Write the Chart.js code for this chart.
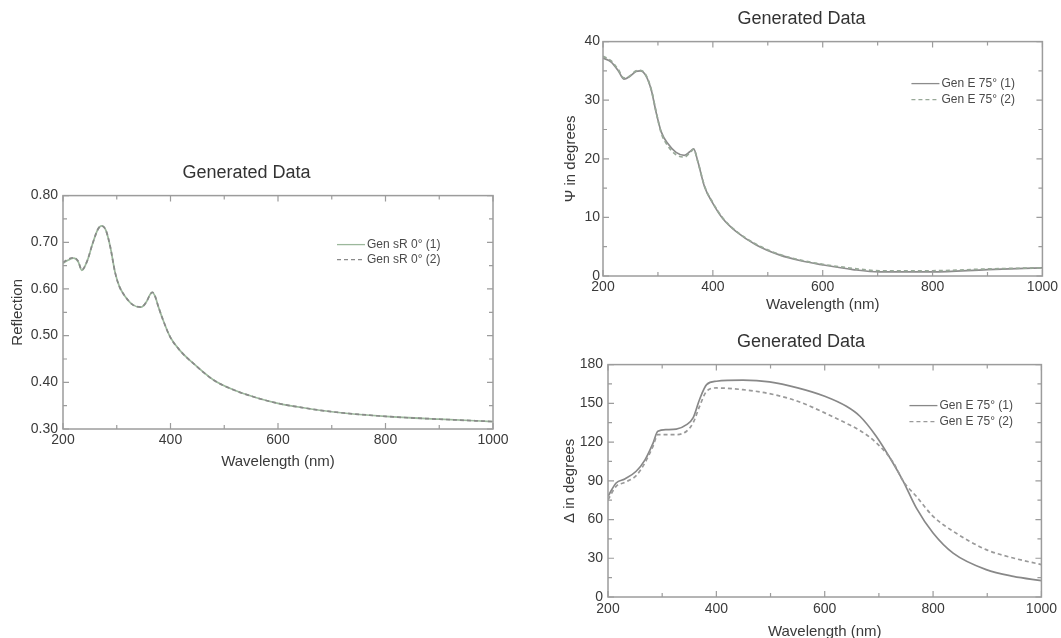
<!DOCTYPE html>
<html>
<head>
<meta charset="utf-8">
<script src="https://cdn.jsdelivr.net/npm/chart.js@4"></script>
<style>
  html, body { margin: 0; background: #fff; width: 1061px; height: 638px; overflow: hidden; }
  .box { position: absolute; }
</style>
</head>
<body>
<div class="box" style="left:0;top:150px;width:520px;height:330px"><canvas id="reflChart"></canvas></div>
<div class="box" style="left:560px;top:0;width:501px;height:320px"><canvas id="psiChart"></canvas></div>
<div class="box" style="left:560px;top:320px;width:501px;height:318px"><canvas id="deltaChart"></canvas></div>
<script>
// reflection, normal incidence
var reflWl = [200, 210, 220, 228, 235, 245, 255, 265, 272, 280, 288, 297, 305, 315, 330, 345, 355, 362, 366, 371, 378, 386, 399, 417, 442, 480, 517, 560, 600, 650, 700, 800, 900, 1000];
var reflGen1 = [0.655, 0.662, 0.666, 0.659, 0.640, 0.660, 0.697, 0.728, 0.735, 0.725, 0.690, 0.635, 0.605, 0.585, 0.566, 0.561, 0.572, 0.588, 0.593, 0.585, 0.560, 0.534, 0.498, 0.469, 0.441, 0.405, 0.384, 0.367, 0.355, 0.345, 0.337, 0.327, 0.321, 0.316];
var reflGen2 = [0.657, 0.664, 0.667, 0.660, 0.641, 0.660, 0.697, 0.728, 0.735, 0.725, 0.690, 0.635, 0.605, 0.585, 0.566, 0.561, 0.572, 0.588, 0.593, 0.585, 0.560, 0.534, 0.498, 0.469, 0.441, 0.405, 0.384, 0.367, 0.355, 0.345, 0.337, 0.327, 0.321, 0.316];

// psi at 75 deg
var psiWl = [200, 215, 228, 238, 248, 260, 268, 278, 288, 297, 306, 318, 333, 348, 358, 365, 373, 385, 400, 418, 442, 479, 521, 560, 600, 655, 703, 800, 900, 1000];
var psiGen1 = [37.2, 36.5, 35.0, 33.6, 34.0, 34.9, 35.0, 34.2, 31.7, 27.8, 24.6, 22.6, 21.1, 20.6, 21.2, 21.7, 19.4, 15.2, 12.4, 9.8, 7.6, 5.3, 3.6, 2.6, 1.9, 1.1, 0.7, 0.7, 1.1, 1.4];
var psiGen2 = [37.5, 36.7, 35.2, 33.8, 34.1, 35.0, 35.1, 34.3, 31.8, 27.9, 24.4, 22.2, 20.7, 20.3, 21.0, 21.6, 19.4, 15.3, 12.5, 9.9, 7.7, 5.4, 3.7, 2.7, 2.0, 1.3, 0.9, 0.9, 1.2, 1.4];

// delta at 75 deg
var delWl = [200, 215, 231, 252, 268, 283, 292, 308, 326, 345, 357, 369, 382, 400, 449, 498, 550, 600, 640, 665, 695, 726, 745, 769, 800, 837, 898, 948, 1000];
var delGen1 = [78, 88.3, 91.4, 97.4, 106, 119, 128.4, 129.6, 130, 133.5, 138.7, 153, 164.5, 167.1, 167.9, 166.6, 162.0, 155.5, 147.7, 140, 124.5, 103.8, 89.6, 69, 49.6, 34, 21.2, 16, 12.7];
var delGen2 = [75.4, 85.7, 88.8, 94, 103.8, 116.7, 125.8, 125.8, 125.8, 128.4, 134.8, 147.7, 159.3, 161.9, 160.6, 157.5, 151.6, 142.6, 134.5, 129.0, 119.5, 104.5, 89.6, 78.0, 62.5, 50.9, 36.7, 30.2, 25.1];

var xTicks = [200, 400, 600, 800, 1000];

Chart.defaults.font.family = "'Liberation Sans', Arial, sans-serif";
Chart.defaults.color = "#3a3a3a";

function pts(xs, ys) {
  return xs.map(function (x, i) { return { x: x, y: ys[i] }; });
}

function isMajor(v, step) {
  var r = v / step;
  return Math.abs(r - Math.round(r)) < 1e-6;
}

// box frame with inward ticks on all four sides, plus the small legend
var frameTicks = {
  id: "frameTicks",
  afterDatasetsDraw(chart, args, opts) {
    var ctx = chart.ctx, a = chart.chartArea, x = chart.scales.x, y = chart.scales.y;
    ctx.save();
    ctx.strokeStyle = "#9c9c9c";
    ctx.lineWidth = 1.5;
    ctx.strokeRect(a.left, a.top, a.right - a.left, a.bottom - a.top);
    ctx.lineWidth = 1.2;
    ctx.beginPath();
    var v, p, len;
    for (v = x.min; v <= x.max + 1e-9; v += opts.xMinor) {
      p = x.getPixelForValue(v);
      len = isMajor(v, opts.xMajor) ? 6 : 4;
      ctx.moveTo(p, a.bottom); ctx.lineTo(p, a.bottom - len);
      ctx.moveTo(p, a.top); ctx.lineTo(p, a.top + len);
    }
    for (v = y.min; v <= y.max + 1e-9; v += opts.yMinor) {
      p = y.getPixelForValue(v);
      len = isMajor(v - y.min, opts.yMajor) ? 6 : 4;
      ctx.moveTo(a.left, p); ctx.lineTo(a.left + len, p);
      ctx.moveTo(a.right, p); ctx.lineTo(a.right - len, p);
    }
    ctx.stroke();

    // legend
    var lg = opts.legend;
    ctx.font = "12px 'Liberation Sans', Arial, sans-serif";
    ctx.textBaseline = "middle";
    ctx.textAlign = "left";
    chart.data.datasets.forEach(function (ds, i) {
      var lx = a.right - lg.right, ly = a.top + lg.top + i * lg.gap;
      ctx.strokeStyle = ds.borderColor;
      ctx.lineWidth = 1.3;
      ctx.setLineDash(ds.borderDash || []);
      ctx.beginPath();
      ctx.moveTo(lx, ly); ctx.lineTo(lx + 28, ly);
      ctx.stroke();
      ctx.setLineDash([]);
      ctx.fillStyle = "#4a4a4a";
      ctx.fillText(ds.label, lx + 30, ly);
    });
    ctx.restore();
  }
};

function makeChart(id, c) {
  return new Chart(id, {
    type: "line",
    data: {
      datasets: [
        {
          label: c.labels[0],
          data: pts(c.wl, c.s1),
          borderColor: c.colors[0],
          borderWidth: 1.7,
          pointRadius: 0,
          order: 1,
          cubicInterpolationMode: "monotone",
        },
        {
          label: c.labels[1],
          data: pts(c.wl, c.s2),
          borderColor: c.colors[1],
          borderWidth: 1.7,
          borderDash: [4, 3],
          pointRadius: 0,
          order: 0,
          cubicInterpolationMode: "monotone",
        },
      ],
    },
    options: {
      responsive: true,
      maintainAspectRatio: false,
      animation: false,
      layout: { padding: c.pad },
      plugins: {
        legend: { display: false },
        tooltip: { enabled: false },
        title: {
          display: true,
          text: "Generated Data",
          color: "#333",
          font: { size: 18, weight: "normal" },
          padding: c.titlePad,
        },
        frameTicks: {
          xMinor: 100, xMajor: 200,
          yMinor: c.yMinor, yMajor: c.yStep,
          legend: c.legend,
        },
      },
      scales: {
        x: {
          type: "linear",
          min: 200,
          max: 1000,
          afterFit(s) { s.height = c.xHeight; },
          afterBuildTicks(s) { s.ticks = xTicks.map(function (v) { return { value: v }; }); },
          grid: { display: false, drawTicks: false },
          border: { display: false },
          ticks: {
            font: { size: 14 },
            padding: c.xLabelPad,
            maxRotation: 0,
            callback: function (v) { return String(v); },
          },
          title: {
            display: true,
            text: "Wavelength (nm)",
            font: { size: 15 },
            padding: { top: 0, bottom: c.xTitlePad },
          },
        },
        y: {
          min: c.yMin,
          max: c.yMax,
          afterFit(s) { s.width = c.yWidth; },
          grid: { display: false, drawTicks: false },
          border: { display: false },
          ticks: {
            stepSize: c.yStep,
            font: { size: 14 },
            padding: c.yLabelPad,
            callback: function (v) { return c.yFmt(v); },
          },
          title: {
            display: true,
            text: c.yTitle,
            font: { size: 15 },
            padding: { top: c.yTitlePad, bottom: 0 },
          },
        },
      },
    },
    plugins: [frameTicks],
  });
}

makeChart("reflChart", {
  wl: reflWl, s1: reflGen1, s2: reflGen2,
  labels: ["Gen sR 0° (1)", "Gen sR 0° (2)"],
  colors: ["#9cb89c", "#8a8a8a"],
  yMin: 0.3, yMax: 0.8, yStep: 0.1, yMinor: 0.05,
  yFmt: function (v) { return v.toFixed(2); },
  yTitle: "Reflection",
  pad: { left: 0, right: 27, top: 0, bottom: 6 },
  titlePad: { top: 12, bottom: 12 },
  yWidth: 63, xHeight: 45,
  xLabelPad: 3, yLabelPad: 5, xTitlePad: 3, yTitlePad: 9,
  legend: { right: 156, top: 49, gap: 15 },
});

makeChart("psiChart", {
  wl: psiWl, s1: psiGen1, s2: psiGen2,
  labels: ["Gen E 75° (1)", "Gen E 75° (2)"],
  colors: ["#8c8c8c", "#98a898"],
  yMin: 0, yMax: 40, yStep: 10, yMinor: 5,
  yFmt: function (v) { return String(v); },
  yTitle: "Ψ in degrees",
  pad: { left: 0, right: 18, top: 0, bottom: 4 },
  titlePad: { top: 8, bottom: 12 },
  yWidth: 43, xHeight: 40,
  xLabelPad: 3, yLabelPad: 3, xTitlePad: 2, yTitlePad: 2,
  legend: { right: 131, top: 42, gap: 16 },
});

makeChart("deltaChart", {
  wl: delWl, s1: delGen1, s2: delGen2,
  labels: ["Gen E 75° (1)", "Gen E 75° (2)"],
  colors: ["#888888", "#9a9a9a"],
  yMin: 0, yMax: 180, yStep: 30, yMinor: 15,
  yFmt: function (v) { return String(v); },
  yTitle: "Δ in degrees",
  pad: { left: 0, right: 19, top: 0, bottom: 0 },
  titlePad: { top: 11, bottom: 12 },
  yWidth: 48, xHeight: 41,
  xLabelPad: 4, yLabelPad: 5, xTitlePad: -3, yTitlePad: 1,
  legend: { right: 132, top: 41, gap: 16 },
});
</script>
</body>
</html>
